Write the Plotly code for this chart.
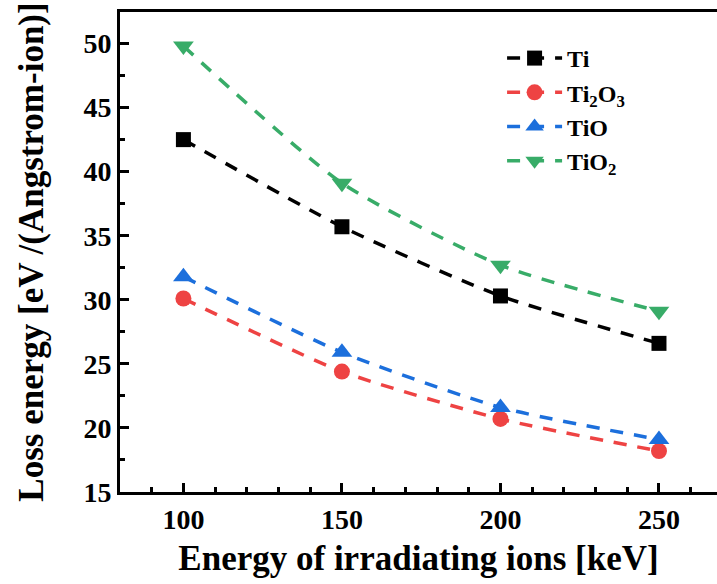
import plotly.graph_objects as go

energy = [100, 150, 200, 250]
ti = [42.5, 35.7, 30.3, 26.6]
ti2o3 = [30.1, 24.4, 20.7, 18.2]
tio = [31.8, 25.9, 21.6, 19.1]
tio2 = [49.8, 39.1, 32.7, 29.1]

series = [
    ("Ti", ti, "#000000", "square", 15),
    ("Ti<sub>2</sub>O<sub>3</sub>", ti2o3, "#EE4343", "circle", 16),
    ("TiO", tio, "#1C6FDC", "triangle-up", 18),
    ("TiO<sub>2</sub>", tio2, "#38AC68", "triangle-down", 18),
]

FONT = "Liberation Serif, Times New Roman, serif"

fig = go.Figure()
for name, vals, color, sym, msize in series:
    fig.add_trace(go.Scatter(
        x=energy, y=vals, name=name, mode="lines+markers",
        line=dict(color=color, width=3.5, dash="13px,11px", shape="spline", smoothing=0.6),
        marker=dict(color=color, symbol=sym, size=msize, line=dict(width=0)),
    ))

axis_common = dict(
    showline=True, linecolor="black", linewidth=3,
    ticks="inside", ticklen=9, tickwidth=3, tickcolor="black",
    showgrid=False, zeroline=False,
    tickfont=dict(family=FONT, size=28, color="black", weight="bold"),
)

fig.update_xaxes(
    range=[80, 268.3], tickvals=[100, 150, 200, 250], mirror=True,
    minor=dict(ticks="inside", dtick=10, ticklen=5, tickwidth=3, tickcolor="black", showgrid=False),
    title=dict(text="Energy of irradiating ions [keV]", font=dict(family=FONT, size=35, color="black", weight="bold"), standoff=12),
    **axis_common,
)
fig.update_yaxes(
    range=[15, 52.46], tickvals=[15, 20, 25, 30, 35, 40, 45, 50], mirror=False,
    minor=dict(ticks="inside", dtick=2.5, ticklen=5, tickwidth=3, tickcolor="black", showgrid=False),
    title=dict(text="Loss energy [eV /(Angstrom-ion)]", font=dict(family=FONT, size=35, color="black", weight="bold"), standoff=30),
    **axis_common,
)

fig.update_layout(
    width=717, height=584,
    margin=dict(l=120, r=0, t=12, b=92),
    plot_bgcolor="white", paper_bgcolor="white",
    showlegend=True,
    legend=dict(
        x=0.64, y=0.95, xanchor="left", yanchor="top",
        font=dict(family=FONT, size=24, color="black", weight="bold"),
        bgcolor="rgba(0,0,0,0)", tracegroupgap=4, itemwidth=55,
    ),
)

fig.write_html("out.html")
